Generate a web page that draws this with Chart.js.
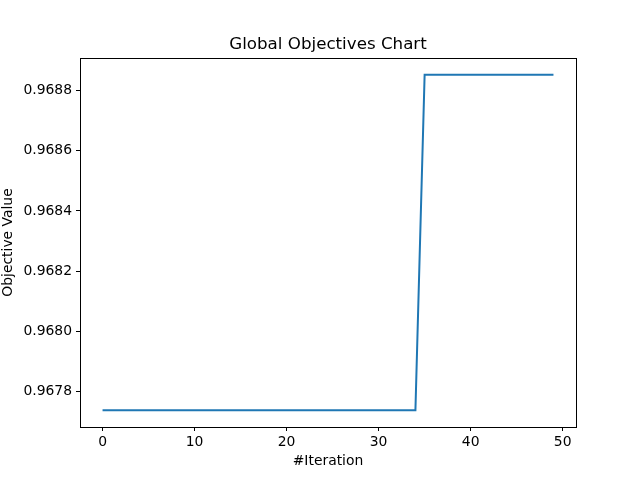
<!DOCTYPE html>
<html>
<head>
<meta charset="utf-8">
<script src="https://cdn.jsdelivr.net/npm/chart.js@4/dist/chart.umd.min.js"></script>
<style>
  html, body { margin: 0; padding: 0; background: #fff; }
  #wrap { width: 640px; height: 480px; }
</style>
</head>
<body>
<div id="wrap"><canvas id="chart" width="640" height="480"></canvas></div>
<script>
// ─── DATA ──────────────────────────────────────────────
const chartTitle = 'Global Objectives Chart';
const iterations = [
  0, 1, 2, 3, 4, 5, 6, 7, 8, 9,
  10, 11, 12, 13, 14, 15, 16, 17, 18, 19,
  20, 21, 22, 23, 24, 25, 26, 27, 28, 29,
  30, 31, 32, 33, 34, 35, 36, 37, 38, 39,
  40, 41, 42, 43, 44, 45, 46, 47, 48, 49
];
const objectiveValues = [
  0.967737, 0.967737, 0.967737, 0.967737, 0.967737, 0.967737, 0.967737, 0.967737, 0.967737, 0.967737,
  0.967737, 0.967737, 0.967737, 0.967737, 0.967737, 0.967737, 0.967737, 0.967737, 0.967737, 0.967737,
  0.967737, 0.967737, 0.967737, 0.967737, 0.967737, 0.967737, 0.967737, 0.967737, 0.967737, 0.967737,
  0.967737, 0.967737, 0.967737, 0.967737, 0.967737, 0.968853, 0.968853, 0.968853, 0.968853, 0.968853,
  0.968853, 0.968853, 0.968853, 0.968853, 0.968853, 0.968853, 0.968853, 0.968853, 0.968853, 0.968853
];
const xTicks = [0, 10, 20, 30, 40, 50];
const yTicks = [0.9678, 0.9680, 0.9682, 0.9684, 0.9686, 0.9688];

const FONT = "'DejaVu Sans', sans-serif";

// box around the plot area (matplotlib spines) + title centred over the axes
const framePlugin = {
  id: 'frame',
  afterDraw(chart) {
    const { ctx, chartArea: a } = chart;
    ctx.save();
    ctx.strokeStyle = '#000';
    ctx.lineWidth = 1;
    ctx.strokeRect(Math.round(a.left) + 0.5, Math.round(a.top) + 0.5,
      Math.round(a.right - a.left), Math.round(a.bottom - a.top));

    ctx.fillStyle = '#000';
    ctx.font = `16.7px ${FONT}`;
    ctx.textAlign = 'center';
    ctx.textBaseline = 'alphabetic';
    ctx.fillText(chartTitle, (a.left + a.right) / 2, a.top - 9);
    ctx.restore();
  }
};

new Chart(document.getElementById('chart'), {
  type: 'line',
  data: {
    datasets: [{
      data: iterations.map((x, i) => ({ x, y: objectiveValues[i] })),
      borderColor: '#1f77b4',
      borderWidth: 2,
      pointRadius: 0,
      tension: 0,
      fill: false
    }]
  },
  options: {
    responsive: false,
    animation: false,
    layout: { padding: { left: 0, right: 64, top: 58, bottom: 0 } },
    plugins: {
      legend: { display: false },
      tooltip: { enabled: false },
      title: { display: false }
    },
    scales: {
      x: {
        type: 'linear',
        min: -2.45,
        max: 51.45,
        afterBuildTicks: axis => { axis.ticks = xTicks.map(v => ({ value: v })); },
        afterFit: axis => { axis.height = 53; },
        grid: { drawOnChartArea: false, drawTicks: true, tickLength: 4, color: '#000' },
        border: { display: false },
        ticks: {
          color: '#000',
          padding: 3,
          maxRotation: 0,
          font: { family: FONT, size: 13.9 },
          callback: v => String(v)
        },
        title: {
          display: true,
          text: '#Iteration',
          color: '#000',
          font: { family: FONT, size: 13.9 },
          padding: { top: 0, bottom: 10 }
        }
      },
      y: {
        type: 'linear',
        min: 0.967681,
        max: 0.968909,
        afterBuildTicks: axis => { axis.ticks = yTicks.map(v => ({ value: v })); },
        afterFit: axis => { axis.width = 80; },
        grid: { drawOnChartArea: false, drawTicks: true, tickLength: 4, color: '#000' },
        border: { display: false },
        ticks: {
          color: '#000',
          padding: 4,
          font: { family: FONT, size: 13.9 },
          callback: v => v.toFixed(4)
        },
        title: {
          display: true,
          text: 'Objective Value',
          color: '#000',
          font: { family: FONT, size: 13.9 },
          padding: { top: 0, bottom: 0 }
        }
      }
    }
  },
  plugins: [framePlugin]
});
</script>
</body>
</html>
